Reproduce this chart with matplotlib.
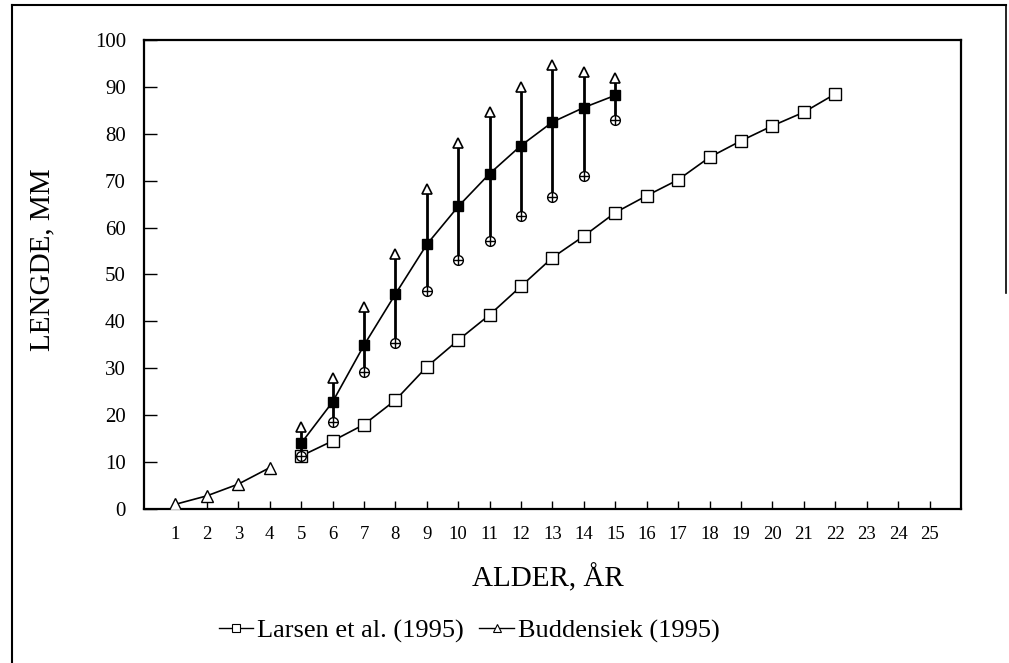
import numpy as np
import matplotlib
matplotlib.use("Agg")
import matplotlib.pyplot as plt
from matplotlib.lines import Line2D

plt.rcParams['font.family'] = ['Liberation Serif', 'DejaVu Serif']

# Larsen et al. (1995)
larsen_age = list(range(5, 23))
larsen_len = [11.3, 14.5, 18.0, 23.2, 30.3, 36.0, 41.4, 47.5, 53.6, 58.2,
              63.2, 66.8, 70.2, 75.0, 78.5, 81.7, 84.6, 88.5]

# Buddensiek (1995), young mussels
budd_age = [1, 2, 3, 4]
budd_len = [1.0, 2.8, 5.3, 8.8]

# Buddensiek (1995), mean with max / min
mean_age = list(range(5, 16))
mean_len = [14.0, 22.8, 34.9, 45.8, 56.4, 64.5, 71.5, 77.5, 82.5, 85.6, 88.2]
max_len = [17.5, 28.0, 43.0, 54.4, 68.2, 78.0, 84.7, 90.0, 94.6, 93.2, 91.8]
min_len = [11.2, 18.5, 29.3, 35.4, 46.5, 53.0, 57.2, 62.5, 66.6, 70.9, 83.0]

x_ticks = list(range(1, 26))
y_ticks = list(range(0, 101, 10))

fig = plt.figure(figsize=(10.09, 6.63), dpi=100)
ax = fig.add_axes([0.1427, 0.2323, 0.8097, 0.7074])

# vertical ranges min-max
ax.vlines(mean_age, min_len, max_len, color='black', lw=2.0, zorder=2)

ax.plot(larsen_age, larsen_len, color='black', lw=1.2, marker='s', ms=8,
        mfc='white', mec='black', mew=1.0, zorder=3)
ax.plot(budd_age, budd_len, color='black', lw=1.2, marker='^', ms=9,
        mfc='white', mec='black', mew=1.0, zorder=3)
ax.plot(mean_age, mean_len, color='black', lw=1.2, marker='s', ms=6.5,
        mfc='black', mec='black', zorder=4)
ax.plot(mean_age, max_len, ls='none', marker='^', ms=7,
        mfc='white', mec='black', mew=1.2, zorder=4)
ax.plot(mean_age, min_len, ls='none', marker='o', ms=7,
        mfc='white', mec='black', mew=1.0, zorder=4)
ax.plot(mean_age, min_len, ls='none', marker='+', ms=7,
        mec='black', mew=1.0, zorder=5)

ax.set_xlim(0, 26)
ax.set_ylim(0, 100)
ax.set_xticks(x_ticks)
ax.set_yticks(y_ticks)
ax.tick_params(axis='y', direction='in', length=9, width=1.0, pad=13,
               labelsize=15)
ax.tick_params(axis='x', direction='in', length=6, width=1.0, pad=12,
               labelsize=13.5)
for s in ax.spines.values():
    s.set_linewidth(1.6)

fig.text(42 / 1009, 1 - 260 / 663, 'LENGDE, MM', rotation=90, fontsize=21,
         ha='center', va='center')
fig.text(548 / 1009, 1 - 578 / 663, 'ALDER, ÅR', fontsize=21,
         ha='center', va='center')

handles = [
    Line2D([], [], color='black', lw=1.0, marker='s', ms=6, mfc='white',
           mec='black', mew=0.8),
    Line2D([], [], color='black', lw=1.0, marker='^', ms=6, mfc='white',
           mec='black', mew=0.8),
]
fig.legend(handles, ['Larsen et al. (1995)', 'Buddensiek (1995)'],
           loc='center', bbox_to_anchor=(469 / 1009, 1 - 631 / 663),
           ncol=2, frameon=False, fontsize=19, handlelength=1.3,
           handletextpad=0.15, columnspacing=0.6)

# outer frame of the scanned figure
fig.add_artist(Line2D([12 / 1009, 12 / 1009], [0, 1 - 5 / 663],
                      transform=fig.transFigure, color='black', lw=1.5))
fig.add_artist(Line2D([12 / 1009, 1006 / 1009], [1 - 5 / 663, 1 - 5 / 663],
                      transform=fig.transFigure, color='black', lw=1.5))
fig.add_artist(Line2D([1006 / 1009, 1006 / 1009], [1 - 5 / 663, 1 - 293 / 663],
                      transform=fig.transFigure, color='black', lw=1.2))

fig.savefig('out.png', dpi=100)
